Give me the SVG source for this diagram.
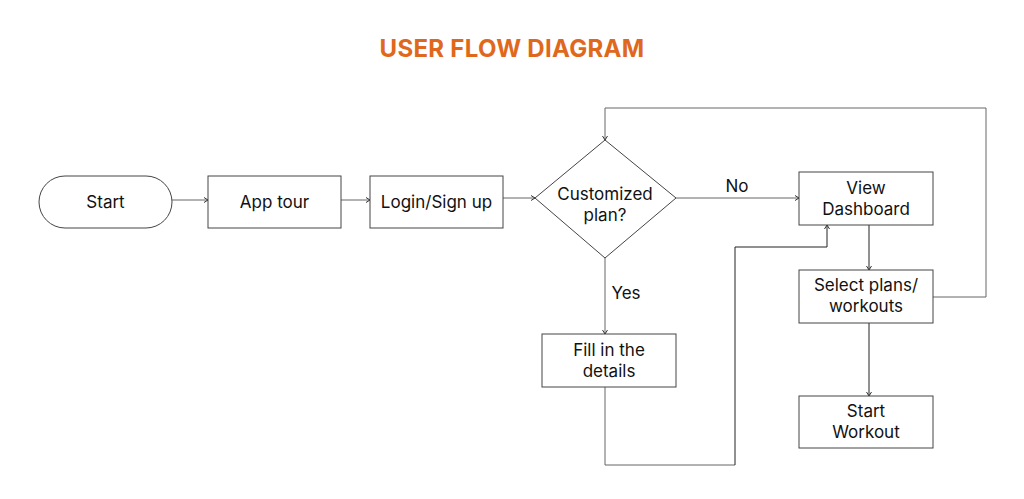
<svg xmlns="http://www.w3.org/2000/svg" width="1024" height="499" viewBox="0 0 1024 499">
<style>
.node{fill:#fff;stroke:#444;stroke-width:1}
.lbl{font-family:Inter,"Liberation Sans",sans-serif;font-size:17px;fill:#111;text-anchor:middle}
.edge{fill:none;stroke:#666;stroke-width:1}
.dark{stroke:#222}
.title{font-family:Inter,"Liberation Sans",sans-serif;font-size:24px;font-weight:700;fill:#E0681C;text-anchor:middle;letter-spacing:0.3px}
</style>
<defs>
<marker id="arr" markerWidth="8" markerHeight="8" refX="6" refY="4" orient="auto" markerUnits="userSpaceOnUse">
<path d="M2,1.5 L6,4 L2,6.5" fill="none" stroke="#333" stroke-width="1"/>
</marker>
</defs>
<rect width="1024" height="499" fill="#fff"/>
<text class="title" x="512" y="57">USER FLOW DIAGRAM</text>
<g id="connectors">
<path class="edge" d="M172,200 H208" marker-end="url(#arr)"/>
<path class="edge" d="M341,200 H370" marker-end="url(#arr)"/>
<path class="edge" d="M503,198 H535" marker-end="url(#arr)"/>
<path class="edge" d="M676,198 H799" marker-end="url(#arr)"/>
<path class="edge" d="M605,258 V334" marker-end="url(#arr)"/>
<path class="edge dark" d="M869,225 V270" marker-end="url(#arr)"/>
<path class="edge dark" d="M869,323 V396" marker-end="url(#arr)"/>
<path class="edge" d="M933,297 H986 V108 H605 V140" marker-end="url(#arr)"/>
<path class="edge" d="M605,387 V465 H735"/>
<path class="edge dark" d="M735,465 V247 H827 V225" marker-end="url(#arr)"/>
<text class="lbl" x="737" y="192">No</text>
<text class="lbl" x="626" y="299">Yes</text>
</g>
<g id="start">
<rect class="node" x="39" y="176" width="133" height="52" rx="26"/>
<text class="lbl" x="105.5" y="208">Start</text>
</g>
<g id="app-tour">
<rect class="node" x="208" y="176" width="133" height="52"/>
<text class="lbl" x="274.5" y="208">App tour</text>
</g>
<g id="login">
<rect class="node" x="370" y="176" width="133" height="52"/>
<text class="lbl" x="436.5" y="208">Login/Sign up</text>
</g>
<g id="decision">
<polygon class="node" points="605,140 676,198 605,258 535,198"/>
<text class="lbl" x="605" y="200">Customized</text>
<text class="lbl" x="605" y="221">plan?</text>
</g>
<g id="fill-details">
<rect class="node" x="542" y="334" width="134" height="53"/>
<text class="lbl" x="609" y="356">Fill in the</text>
<text class="lbl" x="609" y="377">details</text>
</g>
<g id="dashboard">
<rect class="node" x="799" y="172" width="134" height="53"/>
<text class="lbl" x="866" y="194">View</text>
<text class="lbl" x="866" y="215">Dashboard</text>
</g>
<g id="select-plans">
<rect class="node" x="799" y="270" width="134" height="53"/>
<text class="lbl" x="866" y="291">Select plans/</text>
<text class="lbl" x="866" y="312">workouts</text>
</g>
<g id="start-workout">
<rect class="node" x="799" y="396" width="134" height="52"/>
<text class="lbl" x="866" y="417">Start</text>
<text class="lbl" x="866" y="438">Workout</text>
</g>
</svg>
